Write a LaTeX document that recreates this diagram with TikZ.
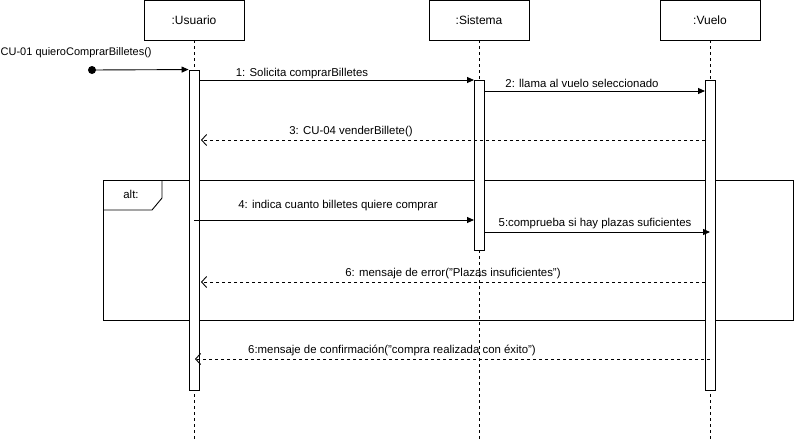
\documentclass[tikz,border=0pt]{standalone}
\usepackage{fontspec}
\setmainfont{Liberation Sans}
\usetikzlibrary{arrows.meta}
\begin{document}
\begin{tikzpicture}[x=1pt,y=-1pt,
  every node/.style={font=\fontsize{11.4}{13}\selectfont},
  head/.style={draw,line width=0.9pt,minimum width=100pt,minimum height=40pt,inner sep=0pt,font=\fontsize{12}{14}\selectfont},
  act/.style={draw,fill=white,line width=0.9pt,minimum width=10pt,inner sep=0pt},
  life/.style={dash pattern=on 3pt off 3pt,line width=0.9pt},
  msg/.style={line width=0.9pt,-{Triangle[length=7pt,width=6pt]}},
  ret/.style={line width=0.9pt,dash pattern=on 3pt off 3pt,-{Straight Barb[length=5pt,width=11pt]}},
  lbl/.style={inner sep=0pt,anchor=base}]
\useasboundingbox (0,0) rectangle (794,442);
% headers
\node[head] (u) at (194,20) {:Usuario};
\node[head] (s) at (479,20) {:Sistema};
\node[head] (v) at (710,20) {:Vuelo};
\coordinate (ue) at (194,442);
\coordinate (se) at (479,442);
\coordinate (ve) at (710,442);
\draw[life] (u.south) -- (ue);
\draw[life] (s.south) -- (se);
\draw[life] (v.south) -- (ve);
% alt frame
\draw[line width=0.9pt] (103,180) rectangle (793,320);
\coordinate (a1) at (103,210);
\draw[line width=0.9pt] (a1) -- (152,210) -- (162,198) -- (162,180);
\node[lbl] (alt) at (131,198) {alt:};
% activations
\node[act,minimum height=320pt] (ua) at (194,230) {};
\node[act,minimum height=170pt] (sa) at (479,165) {};
\node[act,minimum height=310pt] (va) at (710,235) {};
% found message
\fill (92,70) circle (4pt);
\coordinate (f0) at (92,70);
\draw[msg] (f0) -- (ua.north west);
\node[lbl,anchor=base west,font=\fontsize{11}{13}\selectfont] (l0) at (0.5,55) {CU-01 quieroComprarBilletes()};
% 1
\coordinate (m1a) at (199,80);
\coordinate (m1b) at (474,80);
\draw[msg] (m1a) -- (m1b);
\node[lbl] (l1) at (302,76) {1: Solicita comprarBilletes};
% 2
\coordinate (m2a) at (484,91);
\coordinate (m2b) at (705,91);
\draw[msg] (m2a) -- (m2b);
\node[lbl] (l2) at (582,87) {2: llama al vuelo seleccionado};
% 3
\coordinate (m3a) at (705,140);
\coordinate (m3b) at (201,140);
\draw[ret] (m3a) -- (m3b);
\node[lbl] (l3) at (351,134) {3: CU-04 venderBillete()};
% 4
\coordinate (m4a) at (194,220);
\coordinate (m4b) at (474,220);
\draw[msg] (m4a) -- (m4b);
\node[lbl] (l4) at (338,208) {4: indica cuanto billetes quiere comprar};
% 5
\coordinate (m5a) at (484,232);
\coordinate (m5b) at (710,232);
\draw[msg] (m5a) -- (m5b);
\node[lbl] (l5) at (595,226) {5:comprueba si hay plazas suficientes};
% 6 error
\coordinate (m6a) at (705,282);
\coordinate (m6b) at (201,282);
\draw[ret] (m6a) -- (m6b);
\node[lbl] (l6) at (453,276) {6: mensaje de error("Plazas insuficientes")};
% 6 confirm
\coordinate (m7a) at (710,359);
\coordinate (m7b) at (195,359);
\draw[ret] (m7a) -- (m7b);
\node[lbl] (l7) at (392,353) {6:mensaje de confirmación("compra realizada con éxito")};
\end{tikzpicture}
\end{document}
